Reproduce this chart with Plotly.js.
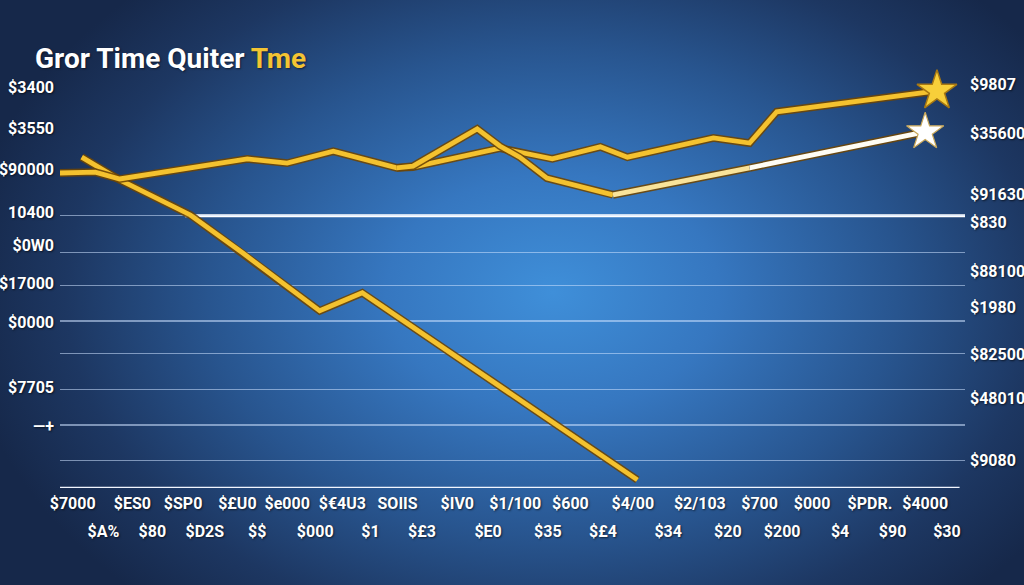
<!DOCTYPE html>
<html>
<head>
<meta charset="utf-8">
<script src="https://cdn.plot.ly/plotly-3.0.1.min.js"></script>
<style>
  html, body { margin:0; padding:0; width:1024px; height:585px; overflow:hidden; }
  body {
    background: radial-gradient(ellipse 58% 72% at 54% 50%, #3f8fd9 0%, #3677c0 28%, #28558f 58%, #1d3762 82%, #16284a 100%);
  }
  #chart { width:1024px; height:585px; }
</style>
</head>
<body>
<div id="chart"></div>
<script>
// ---- data (x: period position, y: value) ----
const lineA_x = [0, 3.9, 6.6, 20.7, 25.1, 30.2, 37.2, 39.0, 48.6, 50.8, 54.4, 59.7, 62.7, 72.2, 76.2, 79.2, 96.9];
const lineA_y = [73.6, 73.8, 72.2, 76.9, 75.9, 78.7, 74.8, 75.0, 79.4, 78.5, 76.9, 79.7, 77.3, 81.8, 80.6, 87.9, 92.8];

const lineB_x = [2.4, 6.6, 14.4, 20.2, 28.7, 33.4, 63.8];
const lineB_y = [77.3, 72.0, 63.8, 54.9, 41.4, 45.6, 1.9];

const lineC_x = [37.2, 39.0, 46.1, 48.6, 50.8, 53.8, 61.1, 76.2, 95.6];
const lineC_y = [74.8, 75.2, 83.9, 79.9, 77.3, 72.4, 68.5, 74.8, 83.2];

const gridVals = [6.5, 14.7, 23.1, 31.5, 39.0, 47.4, 55.1, 63.6];

const xTopVals  = [1.4, 8.0, 13.6, 19.6, 25.1, 31.2, 37.3, 43.9, 50.3, 56.4, 63.3, 70.7, 77.3, 83.1, 89.5, 95.6];
const xTopText  = ["$7000", "$ES0", "$SP0", "$£U0", "$e000", "$€4U3", "SOIIS", "$IV0", "$1/100", "$600", "$4/00", "$2/103", "$700", "$000", "$PDR.", "$4000"];
const xBotVals  = [4.8, 10.2, 16.0, 21.8, 28.2, 34.3, 40.0, 47.3, 53.9, 60.0, 67.2, 73.8, 79.8, 86.2, 92.0, 98.0];
const xBotText  = ["$A%", "$80", "$D2S", "$$", "$000", "$1", "$£3", "$E0", "$35", "$£4", "$34", "$20", "$200", "$4", "$90", "$30"];

const yLeftVals = [93.7, 84.1, 74.5, 64.5, 56.8, 47.9, 38.8, 23.4, 14.3];
const yLeftText = ["$3400", "$3550", "$90000", "10400", "$0W0", "$17000", "$0000", "$7705", "—+"];
const yRightVals = [94.2, 82.9, 68.5, 62.1, 50.5, 42.1, 31.1, 21.0, 6.5];
const yRightText = ["$9807", "$35600", "$91630", "$830", "$88100", "$1980", "$82500", "$48010", "$9080"];
const yRightExtra = {text: "$9S", y: -1.2};

const titleMain = "Gror Time Quiter ";
const titleAccent = "Tme";

// ---- styles ----
const GOLD = "#f4c22f";
const EDGE = "rgba(110,70,5,0.9)";
const FONT = "'Liberation Sans Narrow', 'Roboto', 'DejaVu Sans Condensed', sans-serif";

function lineTraces(xs, ys, color, width) {
  return [
    {x: xs, y: ys, mode: "lines", line: {color: EDGE, width: width + 3, shape: "linear"}, hoverinfo: "skip", xaxis: "x", yaxis: "y"},
    {x: xs, y: ys, mode: "lines", line: {color: color, width: width}, hoverinfo: "skip", xaxis: "x", yaxis: "y"}
  ];
}

const splitC = 6; // index where line C turns pale/white
const splitC2 = 7;
const traces = [].concat(
  lineTraces(lineB_x, lineB_y, GOLD, 4.8),
  lineTraces(lineA_x, lineA_y, GOLD, 4.8),
  lineTraces(lineC_x.slice(0, splitC + 1), lineC_y.slice(0, splitC + 1), GOLD, 4.8),
  lineTraces(lineC_x.slice(splitC, splitC2 + 1), lineC_y.slice(splitC, splitC2 + 1), "#f9e39a", 4.8),
  lineTraces(lineC_x.slice(splitC2), lineC_y.slice(splitC2), "#fffdf4", 4.8),
  [
    {x: [lineA_x[lineA_x.length - 1]], y: [lineA_y[lineA_y.length - 1]], mode: "markers",
     marker: {symbol: "star", size: 30, color: "#f7cf3a", line: {color: "#a87812", width: 1.5}}, hoverinfo: "skip"},
    {x: [lineC_x[lineC_x.length - 1]], y: [lineC_y[lineC_y.length - 1]], mode: "markers",
     marker: {symbol: "star", size: 28, color: "#ffffff", line: {color: "#c9a85a", width: 1.2}}, hoverinfo: "skip"},
    // invisible traces to activate the extra axes
    {x: [0], y: [0], mode: "markers", marker: {opacity: 0}, xaxis: "x2", yaxis: "y", hoverinfo: "skip"},
    {x: [0], y: [0], mode: "markers", marker: {opacity: 0}, xaxis: "x", yaxis: "y2", hoverinfo: "skip"},
    {x: [0], y: [0], mode: "markers", marker: {opacity: 0}, xaxis: "x", yaxis: "y3", hoverinfo: "skip"}
  ]
);

const tickFont = {family: FONT, size: 16, color: "#ffffff", weight: 700, shadow: "1px 1px 2px rgba(0,0,0,0.6)"};

const layout = {
  width: 1024, height: 585,
  margin: {l: 60, r: 59, t: 60, b: 97},
  paper_bgcolor: "rgba(0,0,0,0)",
  plot_bgcolor: "rgba(0,0,0,0)",
  showlegend: false,
  title: {
    text: titleMain + '<span style="color:#f3c433">' + titleAccent + '</span>',
    font: {family: FONT, size: 28, color: "#ffffff", weight: 700, shadow: "1px 1px 2px rgba(0,0,0,0.5)"},
    xref: "container", yref: "container", x: 35 / 1024, xanchor: "left", y: 1 - 58 / 585, yanchor: "middle"
  },
  xaxis: {
    range: [0, 100], showgrid: false, zeroline: false, showline: false,
    tickmode: "array", tickvals: xTopVals, ticktext: xTopText, ticks: "",
    tickfont: tickFont, ticklabelstandoff: 4
  },
  xaxis2: {
    range: [0, 100], overlaying: "x", side: "bottom", anchor: "y", showgrid: false, zeroline: false, showline: false,
    tickmode: "array", tickvals: xBotVals, ticktext: xBotText, ticks: "",
    tickfont: tickFont, ticklabelstandoff: 32
  },
  yaxis: {
    range: [0, 100], showgrid: false, zeroline: false, showline: false,
    tickmode: "array", tickvals: yLeftVals, ticktext: yLeftText, ticks: "",
    tickfont: tickFont, ticklabelstandoff: 5
  },
  yaxis2: {
    range: [0, 100], overlaying: "y", side: "right", anchor: "x", showgrid: false, zeroline: false, showline: false,
    tickmode: "array", tickvals: yRightVals, ticktext: yRightText, ticks: "",
    tickfont: tickFont, ticklabelstandoff: 4
  },
  yaxis3: {
    range: [0, 100], overlaying: "y", side: "left", anchor: "x", zeroline: false, showline: false,
    tickmode: "array", tickvals: gridVals, showticklabels: false, ticks: "",
    showgrid: true, gridcolor: "rgba(205,225,255,0.55)", gridwidth: 1.2
  },
  shapes: [
    {type: "line", xref: "x", yref: "y", x0: 13.8, x1: 100, y0: gridVals[gridVals.length - 1], y1: gridVals[gridVals.length - 1],
     line: {color: "#ffffff", width: 3}, layer: "below"},
    {type: "line", xref: "x", yref: "y", x0: 0, x1: 99.4, y0: 0, y1: 0,
     line: {color: "#f2f6ff", width: 2.5}, layer: "below"}
  ],
  annotations: [
    {xref: "paper", yref: "y", x: 1, xshift: 4, y: yRightExtra.y, text: yRightExtra.text, showarrow: false,
     xanchor: "left", yanchor: "middle", font: tickFont}
  ]
};

Plotly.newPlot("chart", traces, layout, {staticPlot: true, displayModeBar: false});
</script>
</body>
</html>
